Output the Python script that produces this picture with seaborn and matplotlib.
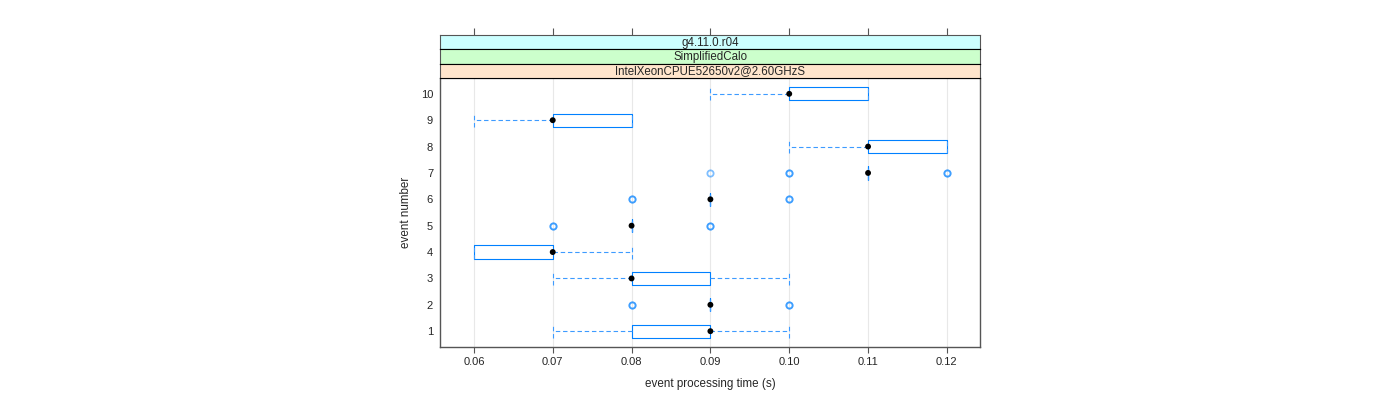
import matplotlib
matplotlib.use("Agg")
import matplotlib.pyplot as plt
import seaborn as sns
import numpy as np
import pandas as pd

# per-event processing times (s)
event_times = {
    1: [0.07, 0.08, 0.08, 0.09, 0.09, 0.09, 0.09, 0.10],
    2: [0.08, 0.08, 0.09, 0.09, 0.09, 0.09, 0.09, 0.09, 0.10, 0.10],
    3: [0.07, 0.08, 0.08, 0.08, 0.08, 0.09, 0.09, 0.10],
    4: [0.06, 0.06, 0.06, 0.07, 0.07, 0.07, 0.07, 0.08],
    5: [0.07, 0.07, 0.08, 0.08, 0.08, 0.08, 0.08, 0.08, 0.09, 0.09],
    6: [0.08, 0.08, 0.09, 0.09, 0.09, 0.09, 0.09, 0.09, 0.10, 0.10],
    7: [0.09, 0.10, 0.10, 0.11, 0.11, 0.11, 0.11, 0.11, 0.11, 0.11, 0.11, 0.12, 0.12],
    8: [0.10, 0.11, 0.11, 0.11, 0.12, 0.12, 0.12],
    9: [0.06, 0.07, 0.07, 0.07, 0.08, 0.08, 0.08],
    10: [0.09, 0.10, 0.10, 0.10, 0.11, 0.11, 0.11],
}
x_ticks = [0.06, 0.07, 0.08, 0.09, 0.10, 0.11, 0.12]
x_ticklabels = ["0.06", "0.07", "0.08", "0.09", "0.10", "0.11", "0.12"]
strip_labels = ["g4.11.0.r04", "SimplifiedCalo", "IntelXeonCPUE52650v2@2.60GHzS"]
strip_colors = ["#ccffff", "#ccffcc", "#ffe5cc"]

rows = [(ev, t) for ev, ts in event_times.items() for t in ts]
df = pd.DataFrame(rows, columns=["event", "time"])
medians = df.groupby("event", as_index=False)["time"].median()

sns.set_theme(style="white")
plt.rcParams["font.family"] = ["Liberation Sans", "DejaVu Sans"]

W, H = 1400, 400
fig = plt.figure(figsize=(14, 4), dpi=100)
px_l, px_r, px_t, px_b = 440, 980, 78, 347
ax = fig.add_axes([px_l / W, 1 - px_b / H, (px_r - px_l) / W, (px_b - px_t) / H])

blue = "#0080ff"
light_blue = "#3d9bff"
frame = "#555555"
dash = (0, (4, 2.5))

for xt in x_ticks:
    ax.axvline(xt, color="#e8e8e8", lw=0.8, zorder=0)

sns.boxplot(
    data=df, x="time", y="event", orient="h", native_scale=True,
    fill=False, color=blue, saturation=1, width=0.5, whis=1.5, linewidth=0.8,
    whiskerprops=dict(linestyle=dash, color=light_blue),
    capprops=dict(linestyle=dash, color=light_blue),
    medianprops=dict(linewidth=0),
    flierprops=dict(marker="o", markerfacecolor="none", markeredgecolor=blue,
                    markersize=4.5, markeredgewidth=1.3, alpha=0.5),
    capwidths=0.5, ax=ax,
)
sns.scatterplot(data=medians, x="time", y="event", color="black", s=18,
                edgecolor="none", zorder=5, ax=ax, legend=False)

ax.set_xlim(0.0557, 0.1242)
ax.set_ylim(0.4, 10.6)
ax.set_yticks(range(1, 11))
ax.set_yticklabels([str(i) for i in range(1, 11)], fontsize=8)
ax.set_xticks(x_ticks)
ax.set_xticklabels(x_ticklabels, fontsize=8)
ax.tick_params(axis="x", direction="out", length=4, width=0.8, color=frame,
               pad=3, bottom=True)
ax.tick_params(axis="y", length=0, pad=5)
ax.set_xlabel("event processing time (s)", fontsize=8.4, labelpad=8)
ax.set_ylabel("event number", fontsize=8.4, labelpad=6)
for sp in ax.spines.values():
    sp.set_color(frame)
    sp.set_linewidth(1)
ax.spines["top"].set_color("black")
ax.spines["top"].set_linewidth(0.8)

# strips on top of the panel
strip_edges = [35, 49.3, 63.6, 78]
for i, (lab, col) in enumerate(zip(strip_labels, strip_colors)):
    top, bot = strip_edges[i], strip_edges[i + 1]
    sax = fig.add_axes([px_l / W, 1 - bot / H, (px_r - px_l) / W, (bot - top) / H])
    sax.set_facecolor(col)
    sax.set_xlim(ax.get_xlim())
    sax.set_yticks([])
    sax.text(0.5, 0.45, lab, ha="center", va="center", fontsize=8.3,
             transform=sax.transAxes)
    for name, sp in sax.spines.items():
        sp.set_linewidth(0.8)
        sp.set_color("black" if name in ("top", "bottom") else frame)
    if i == 0:
        sax.spines["top"].set_color(frame)
        sax.set_xticks(x_ticks)
        sax.xaxis.tick_top()
        sax.tick_params(axis="x", direction="out", length=5, width=0.8,
                        color=frame, labeltop=False, top=True, bottom=False)
    else:
        sax.set_xticks([])

fig.savefig("out.png", dpi=100)
